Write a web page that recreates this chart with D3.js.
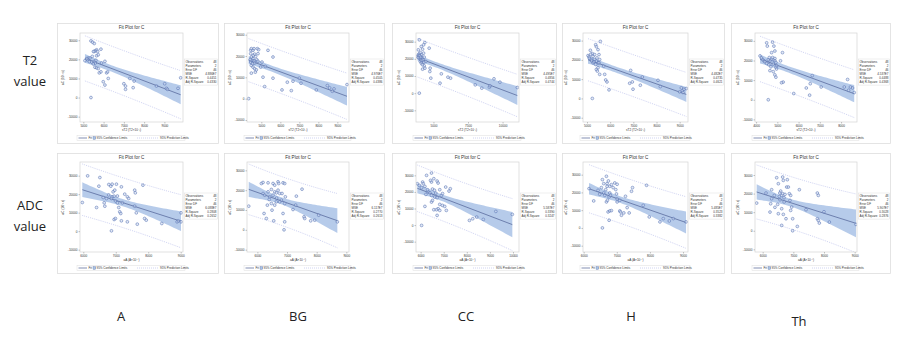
<!DOCTYPE html>
<html><head><meta charset="utf-8">
<script src="https://cdn.jsdelivr.net/npm/d3@7"></script>
<style>body{margin:0;background:#fff} svg{display:block}</style>
</head><body><svg id="c" width="915" height="341"></svg>
<script>
// ---------------- DATA ----------------
const rowLabels = [["T2","value"],["ADC","value"]];
const colLabels = ["A","BG","CC","H","Th"];
const yTicks = [-10000,0,10000,20000,30000];
const xTicksT2 = [[5000,6000,7000,8000,9000],[5000,6000,7000,8000,9000],[5000,7500,10000],[5000,6000,7000,8000,9000],[4000,5000,6000,7000,8000]];
const xTicksADC = [[6000,7000,8000,9000],[6000,7000,8000,9000],[6000,7000,8000,9000,10000],[6000,7000,8000,9000],[6000,7000,8000,9000]];
const xLabelT2 = "sT2 (T2×10⁻³)";
const xLabelADC = "aA (A×10⁻⁷)";
const yLabel = "aC (10⁻³ s)";
const plotTitle = "Fit Plot for C";
const statNames = ["Observations","Parameters","Error DF","MSE","R-Square","Adj R-Square"];
const statsT2 = [["48","2","46","4.886E7","0.4451","0.4330"],["48","2","46","4.976E7","0.4505","0.4386"],["48","2","46","4.495E7","0.4856","0.4744"],["48","2","46","4.482E7","0.4735","0.4621"],["48","2","46","4.537E7","0.4488","0.4368"]];
const statsADC = [["48","2","46","6.088E7","0.2808","0.2652"],["48","2","46","6.117E7","0.2770","0.2613"],["48","2","46","5.587E7","0.3390","0.3247"],["48","2","46","5.485E7","0.3523","0.3382"],["48","2","46","5.907E7","0.3028","0.2876"]];
const legendItems = ["Fit","95% Confidence Limits","95% Prediction Limits"];
const tCrit = 2.013;

const T2_A = [[5377,29650],[5459,28970],[5540,28300],[5656,25000],[5600,24500],[5540,24140],[5705,24140],[5869,25345],[5500,24100],[5246,20690],[5213,19830],[5328,20690],[5443,21550],[5656,21900],[5738,22410],[5540,18970],[5590,18100],[5410,18620],[5490,17590],[5900,18100],[5574,15860],[5656,15520],[5738,15170],[6066,18970],[5787,12930],[5869,13450],[6148,12930],[6197,13450],[6230,10000],[5984,8280],[6066,6550],[5377,0],[7000,7240],[7082,6030],[7082,4310],[7459,5170],[7295,10000],[7508,8620],[8607,6030],[9016,7240],[9098,4830],[9148,4310],[9672,4830],[9803,10340],[5080,19300],[5164,20340],[5300,18800],[5620,19500]];
const T2_BG = [[4333,0],[4439,22680],[4439,21100],[4474,23460],[4561,22680],[4614,23460],[4474,19530],[4439,17170],[4509,17950],[4561,18740],[4614,17640],[4649,16700],[4474,15580],[4561,14800],[4649,14020],[4474,11970],[4684,12440],[4737,13540],[4789,23460],[4860,22990],[4825,21100],[4965,14800],[5035,17170],[5088,10080],[5175,5670],[5351,22680],[5614,19530],[5614,9600],[5210,15120],[6368,7720],[6667,8190],[6088,4090],[6579,3780],[7000,9600],[7088,7240],[7895,4090],[8474,6140],[8596,5040],[8737,3460],[8825,4570],[9509,6610],[4580,20300],[4700,19800],[4760,18300],[4540,16400],[4650,20900],[4820,17600],[4420,18300]];
const T2_CC = [[3976,31070],[3976,0],[3905,25240],[4119,27180],[4214,25630],[4381,29510],[4286,28150],[3857,21360],[3905,22330],[3976,22910],[4048,23690],[4095,21360],[4143,22330],[4048,18450],[4214,17860],[4167,20390],[4333,20970],[4286,23300],[4690,26210],[4333,15920],[4214,13980],[4381,14560],[4452,18450],[4762,14560],[4738,12620],[4810,8740],[5571,11260],[5476,5830],[6048,9320],[6238,8740],[8024,4850],[8500,2910],[9048,3500],[9095,4270],[9381,8350],[9810,6410],[11071,3300],[3976,20390],[4095,19420],[3930,21800],[4020,21900],[4060,20900],[4150,19000],[4250,19400],[3890,20700],[4300,18000],[4120,17500],[4200,16600]];
const T2_H = [[5230,0],[5576,29570],[5403,26830],[5374,27860],[5475,25300],[5518,22730],[5144,24960],[5230,23250],[5259,21880],[5331,22730],[5043,22220],[5086,21540],[5187,20170],[5331,20170],[5403,19320],[5475,18460],[5259,18460],[5374,17610],[5547,20170],[5403,15040],[5475,15900],[5446,14190],[5518,18460],[5719,16750],[5547,12480],[5763,12480],[5806,9570],[5863,8550],[5950,4440],[6885,14530],[6842,7860],[6957,8550],[6986,4790],[7302,6840],[7388,11110],[8065,9400],[8165,6150],[9072,5470],[9115,3930],[9144,3080],[9187,4790],[9288,5130],[9000,3420],[5100,20800],[5200,19500],[5300,19000],[5430,21000],[5160,22900]];
const T2_Th = [[4187,22330],[4498,29000],[4529,27330],[4778,29330],[4840,27330],[4886,24830],[4731,24000],[4622,21500],[4653,19830],[4373,19830],[4420,19330],[4575,20330],[4731,20670],[4809,20330],[4778,21500],[4886,19830],[4933,19000],[4809,18170],[4964,17330],[4886,21000],[4933,16500],[4964,15670],[4653,14830],[4809,14330],[4886,12670],[4933,11500],[5244,24000],[5151,19830],[5275,9000],[5198,8670],[4575,0],[5773,3170],[6364,6000],[6520,2330],[6550,8170],[6644,12330],[7064,6500],[8152,6500],[8308,10330],[8355,4830],[8541,6000],[8619,3670],[8440,6500],[4300,20500],[4500,18500],[4600,17800],[4700,16800],[4250,21300]];

const ADC_A = [[5969,15500],[6133,29900],[6510,29000],[6480,24320],[6408,12790],[6612,18200],[6643,15320],[6663,13510],[6714,17660],[6786,25230],[6847,24320],[6888,25400],[6918,21260],[6888,18560],[6867,17660],[6949,18920],[6969,22160],[6990,16400],[7020,25400],[7051,15320],[7092,12790],[7122,10450],[7153,9550],[7173,23960],[6949,6310],[6990,6850],[6867,180],[7173,5590],[7357,5050],[7276,20000],[7357,18560],[7398,17660],[7582,22160],[7602,20720],[7582,13510],[7633,9910],[7663,3780],[7837,24860],[7888,6850],[7939,5950],[8418,4140],[8888,5050],[8929,5590],[9010,9910],[9010,5050],[7204,15320],[6780,19600],[7050,19000]];
const ADC_BG = [[5708,11930],[6135,23360],[6191,23870],[6360,23700],[6528,23360],[6697,24200],[6719,23360],[6865,23700],[6921,23360],[6584,22520],[6191,18320],[6247,17480],[6360,19160],[6472,20340],[6416,16640],[6528,17480],[6584,19160],[6640,18660],[6697,20000],[6753,18320],[6831,18320],[6809,14960],[6640,14120],[6472,13280],[6584,12440],[6753,14120],[6921,13280],[6943,16640],[6337,12440],[6225,8240],[6494,9920],[6303,5710],[6551,4540],[6921,4030],[6899,0],[6865,8240],[7202,10250],[7292,12440],[7315,16980],[7506,20500],[7573,6550],[7596,5710],[7798,4540],[7933,4870],[8067,7390],[8697,4030],[6650,16000],[6400,15300]];
const ADC_CC = [[5857,24950],[5943,23950],[6043,22540],[6086,25960],[6114,24950],[6186,23340],[6257,29980],[6471,31390],[6471,25960],[6571,27970],[6429,26960],[6714,26560],[6757,25350],[6829,21330],[6514,21730],[6229,18510],[6329,19920],[6471,17910],[6657,19310],[6614,16900],[6714,16500],[6900,17910],[7086,22940],[7286,21930],[7229,20520],[6186,11270],[6471,13880],[6514,14890],[6829,12470],[6757,9860],[6943,11870],[6571,9260],[6686,9260],[6829,8850],[7043,11270],[7114,8850],[6714,5840],[6043,-200],[8114,2820],[8257,3820],[8714,3420],[8429,4830],[9257,8250],[9971,6440],[6300,21300],[6600,21000],[6950,19000],[6400,19500]];
const ADC_H = [[6162,22140],[6303,15200],[6434,21200],[6485,18950],[6535,22700],[6566,27200],[6606,19700],[6667,21580],[6687,29080],[6707,24950],[6747,26450],[6788,23450],[6838,24390],[6707,23450],[6606,24950],[6636,18380],[6687,14630],[6717,15570],[6768,17450],[6788,19700],[6808,18380],[6889,22700],[6939,25330],[7010,24580],[6970,21580],[6990,19140],[7010,16330],[7010,14630],[7091,15570],[6737,9000],[6788,9570],[6768,4320],[6838,9760],[7091,9570],[7141,7130],[7212,8440],[7111,9000],[7263,17820],[7313,11440],[7374,8440],[7444,20640],[7475,22700],[6566,0],[7798,12760],[7899,24010],[7980,6190],[8303,3380],[8404,5250],[8586,3940],[8707,5250],[9091,3380]];
const ADC_Th = [[5804,14900],[6109,20290],[6293,22080],[6261,14540],[6239,10050],[6293,17230],[6457,28550],[6511,25310],[6543,18480],[6565,16690],[6587,21360],[6620,19030],[6652,28900],[6674,27110],[6652,19930],[6696,17770],[6728,19570],[6620,11850],[6511,9160],[6674,8800],[6761,6460],[6783,23520],[6837,23520],[6870,19930],[6913,19030],[6891,16330],[6804,27470],[6946,12750],[6913,10950],[6978,6460],[6620,2870],[6978,0],[7130,2330],[7196,22080],[7413,11310],[7783,20290],[7815,19030],[7783,6460],[7815,5570],[7848,4130],[8000,10230],[8174,4670],[9043,3410],[6380,19030],[6489,14180],[6560,20300],[6700,15500],[6400,12600]];

const dataT2 = [T2_A, T2_BG, T2_CC, T2_H, T2_Th];
const dataADC = [ADC_A, ADC_BG, ADC_CC, ADC_H, ADC_Th];

// ---------------- LAYOUT ----------------
const rowGeo = [
  {boxTop:23, boxBottom:143, plotTop:33, plotBottom:122, statsTop:59, title:27.5, tickY:126.5, xLab:130.5, legendY:138},
  {boxTop:153, boxBottom:273, plotTop:162, plotBottom:252, statsTop:193, title:157.5, tickY:256.5, xLab:261, legendY:268}
];
const colGeo = [
  {boxL:57, boxR:218, plotL:80, plotR:183, lab:121},
  {boxL:224, boxR:384, plotL:247, plotR:349, lab:298},
  {boxL:392, boxR:556, plotL:416, plotR:519, lab:466},
  {boxL:562, boxR:724, plotL:583, plotR:688, lab:631},
  {boxL:731, boxR:890, plotL:755, plotR:857, lab:799}
];
const xDomT2 = [[4836,9918],[4246,9614],[3738,11190],[4827,9360],[3950,8750]];
const yDomT2 = [[-12800,33800],[-10950,30800],[-16800,35050],[-12220,33930],[-11330,34000]];
const xDomADC = [[5898,9071],[5650,9090],[5800,10260],[5980,9150],[5750,9076]];
const yDomADC = [[-11260,37390],[-11180,34200],[-16240,38050],[-13560,37130],[-11440,37000]];

const C = {band:"#a9c2e6", fit:"#4d5f93", pred:"#a7aee6", pt:"#5874b4", frame:"#d4d4d4", box:"#dedede", text:"#333"};
const F = "'Liberation Sans', Arial, sans-serif";
const FS = {title:4.6, tick:3.1, label:3.1, stats:3.0, legend:3.0};

const svg = d3.select("#c");

function regress(pts){
  const n=pts.length, mx=d3.mean(pts,d=>d[0]), my=d3.mean(pts,d=>d[1]);
  let sxx=0,sxy=0; pts.forEach(([x,y])=>{sxx+=(x-mx)**2; sxy+=(x-mx)*(y-my);});
  const b=sxy/sxx, a=my-b*mx;
  let sse=0; pts.forEach(([x,y])=>{sse+=(y-a-b*x)**2;});
  return {a,b,s:Math.sqrt(sse/(n-2)),mx,sxx,n};
}

function panel(ri, ci, pts, xTicks, xDom, yDom, xLabel, stats){
  const r=rowGeo[ri], c=colGeo[ci];
  const g=svg.append("g");
  g.append("rect").attr("x",c.boxL+0.5).attr("y",r.boxTop+0.5).attr("width",c.boxR-c.boxL).attr("height",r.boxBottom-r.boxTop)
    .attr("fill","#fff").attr("stroke",C.box).attr("stroke-width",0.8);
  const x=d3.scaleLinear().domain(xDom).range([c.plotL,c.plotR]);
  const y=d3.scaleLinear().domain(yDom).range([r.plotBottom,r.plotTop]);
  g.append("text").attr("x",(c.plotL+c.plotR)/2).attr("y",r.title).attr("text-anchor","middle").attr("dominant-baseline","middle")
    .attr("font-family",F).attr("font-size",FS.title).attr("fill",C.text).text(plotTitle);
  const fr=regress(pts);
  const ext=d3.extent(pts,d=>d[0]);
  const xs=d3.range(0,41).map(i=>ext[0]+(ext[1]-ext[0])*i/40);
  const yh=(xv,k)=>tCrit*fr.s*Math.sqrt(k+1/fr.n+(xv-fr.mx)**2/fr.sxx);
  const clip="clip"+ri+ci;
  g.append("clipPath").attr("id",clip).append("rect").attr("x",c.plotL).attr("y",r.plotTop).attr("width",c.plotR-c.plotL).attr("height",r.plotBottom-r.plotTop);
  const pg=g.append("g").attr("clip-path",`url(#${clip})`);
  pg.append("path").datum(xs).attr("fill",C.band).attr("fill-opacity",0.85)
    .attr("d",d3.area().x(d=>x(d)).y0(d=>y(fr.a+fr.b*d-yh(d,0))).y1(d=>y(fr.a+fr.b*d+yh(d,0))));
  [1,-1].forEach(sg=>{
    pg.append("path").datum(xs).attr("fill","none").attr("stroke",C.pred).attr("stroke-width",0.6).attr("stroke-dasharray","0.9,1.1")
      .attr("d",d3.line().x(d=>x(d)).y(d=>y(fr.a+fr.b*d+sg*yh(d,1))));
  });
  pg.append("path").datum(ext).attr("fill","none").attr("stroke",C.fit).attr("stroke-width",0.7)
    .attr("d",d3.line().x(d=>x(d)).y(d=>y(fr.a+fr.b*d)));
  pg.selectAll("circle").data(pts).join("circle").attr("cx",d=>x(d[0])).attr("cy",d=>y(d[1])).attr("r",1.4)
    .attr("fill","#c9d5ee").attr("fill-opacity",0.5).attr("stroke",C.pt).attr("stroke-width",0.55);
  g.append("rect").attr("x",c.plotL).attr("y",r.plotTop).attr("width",c.plotR-c.plotL).attr("height",r.plotBottom-r.plotTop)
    .attr("fill","none").attr("stroke",C.frame).attr("stroke-width",0.7);
  // axes
  const xa=g.append("g").attr("transform",`translate(0,${r.plotBottom})`)
    .call(d3.axisBottom(x).tickValues(xTicks).tickSize(1.5).tickFormat(d3.format("d")));
  const ya=g.append("g").attr("transform",`translate(${c.plotL},0)`)
    .call(d3.axisLeft(y).tickValues(yTicks).tickSize(1.5).tickFormat(d=>d<0?"-"+Math.abs(d):String(d)));
  [xa,ya].forEach(a=>{
    a.select(".domain").remove();
    a.selectAll("line").attr("stroke","#888").attr("stroke-width",0.5);
    a.selectAll("text").attr("font-family",F).attr("font-size",FS.tick).attr("fill",C.text);
  });
  xa.selectAll("text").attr("y",2.6);
  ya.selectAll("text").attr("x",-2.5);
  g.append("text").attr("x",(c.plotL+c.plotR)/2).attr("y",r.xLab).attr("text-anchor","middle")
    .attr("font-family",F).attr("font-size",FS.label).attr("fill",C.text).text(xLabel);
  const ym=(r.plotTop+r.plotBottom)/2;
  g.append("text").attr("transform",`translate(${c.plotL-16},${ym}) rotate(-90)`).attr("text-anchor","middle")
    .attr("font-family",F).attr("font-size",FS.label).attr("fill",C.text).text(yLabel);
  // stats box
  const sx=c.plotR+1.5, sw=c.boxR-sx-0.5, lh=4.1;
  g.append("rect").attr("x",sx).attr("y",r.statsTop).attr("width",sw).attr("height",lh*6+1.5)
    .attr("fill","#fff").attr("stroke",C.box).attr("stroke-width",0.5);
  statNames.forEach((s,i)=>{
    g.append("text").attr("x",sx+1).attr("y",r.statsTop+lh*(i+1)-0.6).attr("font-family",F).attr("font-size",FS.stats).attr("fill",C.text).text(s);
    g.append("text").attr("x",sx+sw-1).attr("y",r.statsTop+lh*(i+1)-0.6).attr("text-anchor","end").attr("font-family",F).attr("font-size",FS.stats).attr("fill",C.text).text(stats[i]);
  });
  // legend
  const lx=c.plotL-3, lw=(c.plotR-c.plotL)+5, ly=r.legendY;
  g.append("rect").attr("x",lx).attr("y",ly-2.6).attr("width",lw).attr("height",5.2).attr("fill","#fff").attr("stroke",C.box).attr("stroke-width",0.5);
  g.append("line").attr("x1",lx+1.5).attr("x2",lx+10).attr("y1",ly).attr("y2",ly).attr("stroke",C.fit).attr("stroke-width",0.7);
  g.append("text").attr("x",lx+11.5).attr("y",ly+1.1).attr("font-family",F).attr("font-size",FS.legend).attr("fill",C.text).text(legendItems[0]);
  g.append("rect").attr("x",lx+16).attr("y",ly-1.4).attr("width",2.8).attr("height",2.8).attr("fill",C.band).attr("stroke",C.fit).attr("stroke-width",0.3);
  g.append("text").attr("x",lx+19.5).attr("y",ly+1.1).attr("font-family",F).attr("font-size",FS.legend).attr("fill",C.text).text(legendItems[1]);
  g.append("line").attr("x1",lx+60).attr("x2",lx+81).attr("y1",ly).attr("y2",ly).attr("stroke",C.pred).attr("stroke-width",0.6).attr("stroke-dasharray","0.9,1.1");
  g.append("text").attr("x",lx+83).attr("y",ly+1.1).attr("font-family",F).attr("font-size",FS.legend).attr("fill",C.text).text(legendItems[2]);
}

dataT2.forEach((d,i)=>panel(0,i,d,xTicksT2[i],xDomT2[i],yDomT2[i],xLabelT2,statsT2[i]));
dataADC.forEach((d,i)=>panel(1,i,d,xTicksADC[i],xDomADC[i],yDomADC[i],xLabelADC,statsADC[i]));

// row and column labels
const LF="'Open Sans', 'Liberation Sans', sans-serif";
rowLabels.forEach((lines,i)=>{
  const cy = i===0 ? 62 : 207;
  lines.forEach((t,j)=>{
    svg.append("text").attr("x",30).attr("y",cy+j*21).attr("text-anchor","middle").attr("dominant-baseline","middle")
      .attr("font-family",LF).attr("font-size",13).attr("fill","#222").text(t);
  });
});
colLabels.forEach((t,i)=>{
  svg.append("text").attr("x",colGeo[i].lab).attr("y",i===4?323:318).attr("text-anchor","middle").attr("dominant-baseline","middle")
    .attr("font-family",LF).attr("font-size",13).attr("fill","#222").text(t);
});
</script></body></html>
